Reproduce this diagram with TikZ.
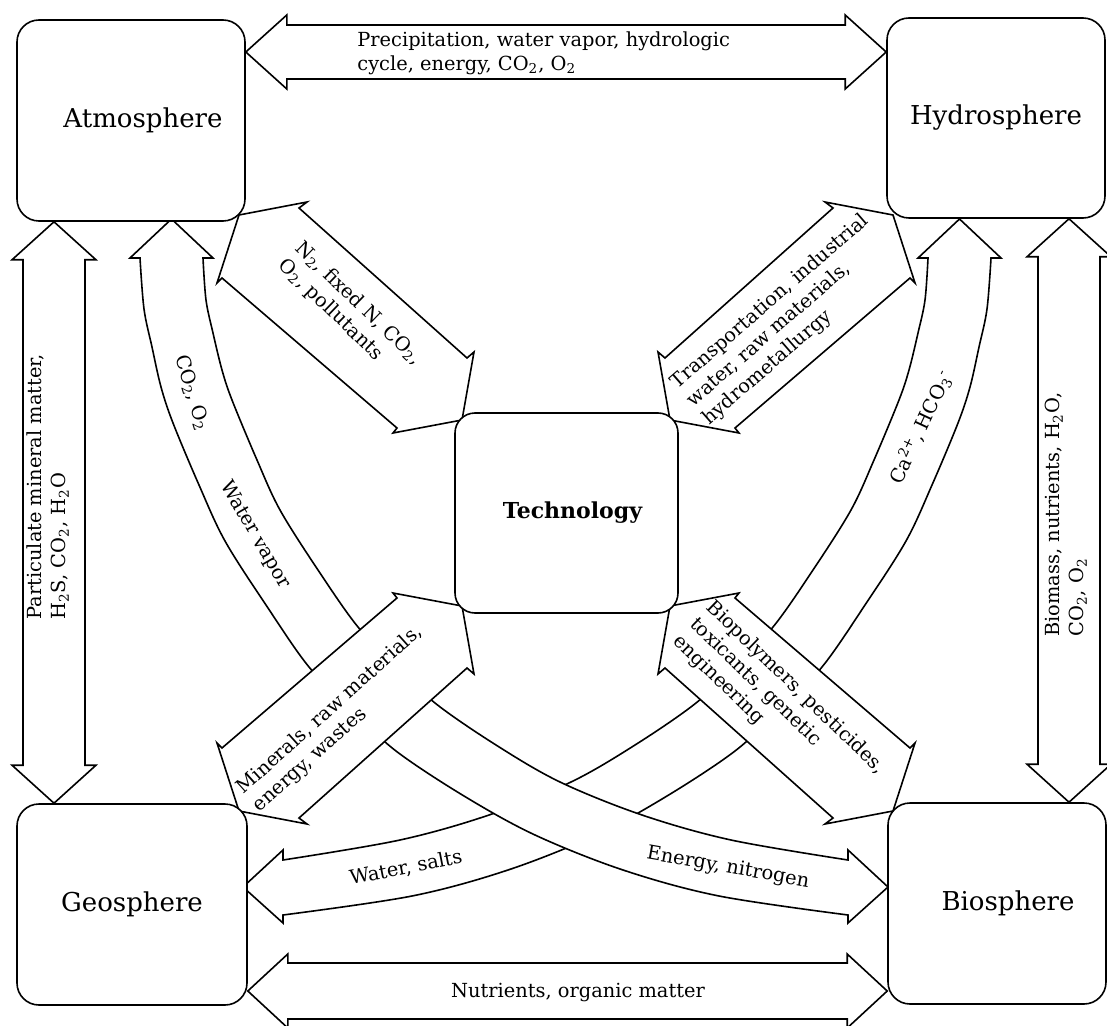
\documentclass[tikz,border=0pt]{standalone}
\usepackage{fontspec}
\setmainfont{DejaVu Serif}
\usetikzlibrary{calc}
\pgfdeclarelayer{back}
\pgfsetlayers{back,main}
\newcommand\lblfont{\fontsize{9.7}{12}\selectfont}
\newcommand\boxfont{\fontsize{13}{15}\selectfont}
% horizontal fat double arrow: #1 left tip, #2 right tip, #3 head length, #4 head half-width, #5 shaft half-width
\newcommand\fatH[5]{\draw[fat] (#1) -- ($(#1)+(#3,-#4)$) -- ($(#1)+(#3,-#5)$) -- ($(#2)+(-#3,-#5)$) -- ($(#2)+(-#3,-#4)$) -- (#2) -- ($(#2)+(-#3,#4)$) -- ($(#2)+(-#3,#5)$) -- ($(#1)+(#3,#5)$) -- ($(#1)+(#3,#4)$) -- cycle;}
% vertical fat double arrow: #1 top tip, #2 bottom tip
\newcommand\fatV[5]{\draw[fat] (#1) -- ($(#1)+(#4,#3)$) -- ($(#1)+(#5,#3)$) -- ($(#2)+(#5,-#3)$) -- ($(#2)+(#4,-#3)$) -- (#2) -- ($(#2)+(-#4,-#3)$) -- ($(#2)+(-#5,-#3)$) -- ($(#1)+(-#5,#3)$) -- ($(#1)+(-#4,#3)$) -- cycle;}
% diagonal arrow between Atmosphere corner and Technology corner
\newcommand\diagshape{\draw[fat] (239,215) -- (307,202) -- (299,208) -- (467,358) -- (474,352) -- (462,420) -- (393,433) -- (397,428) -- (222,278) -- (217,283) -- cycle;}
% curved band from Atmosphere bottom to Biosphere left
\newcommand\arcshape{\draw[fat] (171.5,219) -- (213,258) -- plot[smooth,tension=0.55] coordinates {(203,258) (206,300) (213,333) (222,370) (232,400) (257,460) (280,510) (318,570) (358,627) (396,665) (435,703) (496,745) (560,782) (642,815) (731,840) (848,860)} -- (848,850) -- (888,887) -- (848,923) -- plot[smooth,tension=0.55] coordinates {(848,915) (719,896) (623,870) (535,835) (464,796) (396,751) (352,710) (309,667) (266,605) (225,541) (199,485) (173,423) (161,387) (152,347) (144,309) (140,258)} -- (130,258) -- cycle;}
\begin{document}
\begin{tikzpicture}[x=0.5pt,y=-0.5pt,
  fat/.style={draw, fill=white, line width=0.8pt, line join=miter},
  box/.style={draw, fill=white, line width=0.8pt, rounded corners=11pt, inner sep=0pt, font=\boxfont},
  lbl/.style={inner sep=0pt, font=\lblfont, align=left}]
\path[use as bounding box] (0,0) rectangle (1107,1026);
% boxes
\node[box, minimum width=114pt, minimum height=100.5pt] (atm) at (131,120.5) {\hspace*{12pt}Atmosphere};
\node[box, minimum width=109pt, minimum height=100pt] (hyd) at (996,118) {Hydrosphere};
\node[box, minimum width=115pt, minimum height=100.5pt] (geo) at (132,904.5) {Geosphere};
\node[box, minimum width=109pt, minimum height=100.5pt] (bio) at (997,903.5) {\hspace*{11pt}Biosphere};
\node[box, rounded corners=10pt, minimum width=111.5pt, minimum height=100pt, font=\bfseries\fontsize{11}{13}\selectfont] (tech) at (566.5,513) {\hspace*{6pt}Technology};
% tips of straight connectors
\coordinate (tT1) at (atm.east |- 0,52);
\coordinate (tT2) at (hyd.west |- 0,52);
\coordinate (tB1) at (geo.east |- 0,991);
\coordinate (tB2) at (bio.west |- 0,991);
\coordinate (tL1) at (atm.south -| 54,0);
\coordinate (tL2) at (geo.north -| 54,0);
\coordinate (tR1) at (hyd.south -| 1069,0);
\coordinate (tR2) at (bio.north -| 1069,0);
\begin{pgfonlayer}{back}
\clip (0,0) rectangle (1107,1026);
\fill[white] (0,0) rectangle (1107,1026);
% curved bands: hydrosphere-geosphere under atmosphere-biosphere
\begin{scope}[shift={(1131,0)},xscale=-1]\arcshape\end{scope}
\arcshape
% diagonal arrows to technology
\diagshape
\begin{scope}[shift={(1132,0)},xscale=-1]\diagshape\end{scope}
\begin{scope}[shift={(0,1026)},yscale=-1]\diagshape\end{scope}
\begin{scope}[shift={(1132,1026)},xscale=-1,yscale=-1]\diagshape\end{scope}
% straight arrows
\fatH{tT1}{tT2}{41}{37}{27}
\fatH{tB1}{tB2}{40}{37}{28}
\fatV{tL1}{tL2}{38}{42}{31}
\fatV{tR1}{tR2}{38}{42}{31}
\end{pgfonlayer}
% labels
\node[lbl, anchor=west] (l1) at (357,53) {Precipitation, water vapor, hydrologic\\cycle, energy, CO\textsubscript{2}, O\textsubscript{2}};
\node[lbl] (l2) at (578,993) {Nutrients, organic matter};
\node[lbl, rotate=90, anchor=west] (l3) at (48,620) {Particulate mineral matter,\\H\textsubscript{2}S, CO\textsubscript{2}, H\textsubscript{2}O};
\node[lbl, rotate=90, anchor=west] (l4) at (1066,637) {Biomass, nutrients, H\textsubscript{2}O,\\CO\textsubscript{2}, O\textsubscript{2}};
\node[lbl, rotate=-44] (l5) at (350,312) {N\textsubscript{2}, fixed N, CO\textsubscript{2},\\O\textsubscript{2}, pollutants};
\node[lbl, rotate=41] (l6) at (786,320) {Transportation, industrial\\water, raw materials,\\hydrometallurgy};
\node[lbl, rotate=42] (l7) at (338,719) {Minerals, raw materials,\\energy, wastes};
\node[lbl, rotate=-44] (l8) at (779,705) {Biopolymers, pesticides,\\toxicants, genetic\\engineering};
\node[lbl, rotate=-73] (l9) at (192,393) {CO\textsubscript{2}, O\textsubscript{2}};
\node[lbl, rotate=-60] (l10) at (255,535) {Water vapor};
\node[lbl, rotate=-10] (l11) at (728,868) {Energy, nitrogen};
\node[lbl, rotate=65] (l12) at (921,427) {Ca\textsuperscript{2+}, HCO\textsubscript{3}\textsuperscript{-}};
\node[lbl, rotate=11] (l13) at (406,868) {Water, salts};
\end{tikzpicture}
\end{document}
